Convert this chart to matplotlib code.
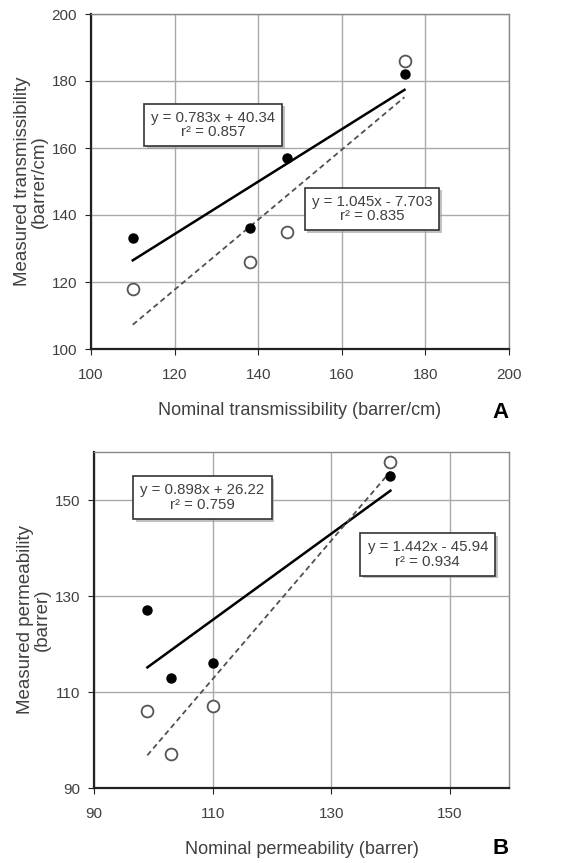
import matplotlib
matplotlib.use('Agg')
import matplotlib.pyplot as plt
import matplotlib.patheffects as pe
import numpy as np

plt.rcParams['font.family'] = ['Liberation Sans', 'DejaVu Sans']
plt.rcParams['text.color'] = '#404040'
plt.rcParams['axes.labelcolor'] = '#404040'
plt.rcParams['xtick.color'] = '#404040'
plt.rcParams['ytick.color'] = '#404040'

# panel A: transmissibility
a_nominal = [110, 138, 147, 175]
a_filled = [133, 136, 157, 182]
a_open = [118, 126, 135, 186]
a_fit_filled = (0.783, 40.34)
a_fit_open = (1.045, -7.703)
a_text_filled = "y = 0.783x + 40.34\nr² = 0.857"
a_text_open = "y = 1.045x - 7.703\nr² = 0.835"

# panel B: permeability
b_nominal = [99, 103, 110, 140]
b_filled = [127, 113, 116, 155]
b_open = [106, 97, 107, 158]
b_fit_filled = (0.898, 26.22)
b_fit_open = (1.442, -45.94)
b_text_filled = "y = 0.898x + 26.22\nr² = 0.759"
b_text_open = "y = 1.442x - 45.94\nr² = 0.934"

fig = plt.figure(figsize=(5.87, 8.63), dpi=100)
W, H = 587, 863
axA = fig.add_axes([91 / W, 1 - 349 / H, 418 / W, 335 / H])
axB = fig.add_axes([94 / W, 1 - 788 / H, 415 / W, 336 / H])


def panel(ax, x, yf, yo, fitf, fito, tf, to, posf, poso, xlim, ylim, ticks_x, ticks_y,
          xlabel, ylabel, letter, letter_y):
    x = np.array(x, dtype=float)
    xs = np.array([x.min(), x.max()])
    ax.plot(xs, fitf[0] * xs + fitf[1], color='black', lw=1.8, zorder=3)
    ax.plot(xs, fito[0] * xs + fito[1], color='#505050', lw=1.3, ls=(0, (3, 2)), zorder=3)
    ax.plot(x, yf, 'o', color='black', ms=6.5, zorder=4)
    ax.plot(x, yo, 'o', mfc='white', mec='#555555', mew=1.3, ms=8.5, zorder=4)
    ax.set_xlim(*xlim)
    ax.set_ylim(*ylim)
    ax.set_xticks(ticks_x)
    ax.set_yticks(ticks_y)
    ax.grid(True, color='#aaaaaa', lw=1.0)
    ax.set_axisbelow(True)
    for s in ['top', 'right']:
        ax.spines[s].set_color('#888888')
        ax.spines[s].set_linewidth(1.0)
    for s in ['left', 'bottom']:
        ax.spines[s].set_color('#222222')
        ax.spines[s].set_linewidth(1.6)
    ax.tick_params(labelsize=11, length=4, color='#222222')
    ax.tick_params(axis='x', pad=10)
    ax.tick_params(axis='y', pad=6)
    ax.set_xlabel(xlabel, fontsize=13, labelpad=14)
    ax.set_ylabel(ylabel, fontsize=13.5, labelpad=3, linespacing=0.95)
    for txt, pos in [(tf, posf), (to, poso)]:
        t = ax.text(pos[0], pos[1], txt, ha='center', va='center', fontsize=10.8,
                    linespacing=1.05, zorder=6,
                    bbox=dict(boxstyle='square,pad=0.47', fc='white', ec='#333333', lw=1.2))
        t.get_bbox_patch().set_path_effects([
            pe.SimplePatchShadow(offset=(2, -2), shadow_rgbFace='#999999', alpha=0.6),
            pe.Normal()])
    ax.text(1.0, letter_y, letter, transform=ax.transAxes, fontsize=16, fontweight='bold',
            color='black', ha='right', va='center')


panel(axA, a_nominal, a_filled, a_open, a_fit_filled, a_fit_open, a_text_filled, a_text_open,
      (129.2, 166.9), (167.2, 141.8), (100, 200), (100, 200),
      [100, 120, 140, 160, 180, 200], [100, 120, 140, 160, 180, 200],
      'Nominal transmissibility (barrer/cm)', 'Measured transmissibility\n(barrer/cm)', 'A', -0.19)
panel(axB, b_nominal, b_filled, b_open, b_fit_filled, b_fit_open, b_text_filled, b_text_open,
      (108.3, 150.5), (146.3, 138.7), (90, 160), (90, 160),
      [90, 110, 130, 150], [90, 110, 130, 150],
      'Nominal permeability (barrer)', 'Measured permeability\n(barrer)', 'B', -0.18)

fig.savefig('out.png', dpi=100)
